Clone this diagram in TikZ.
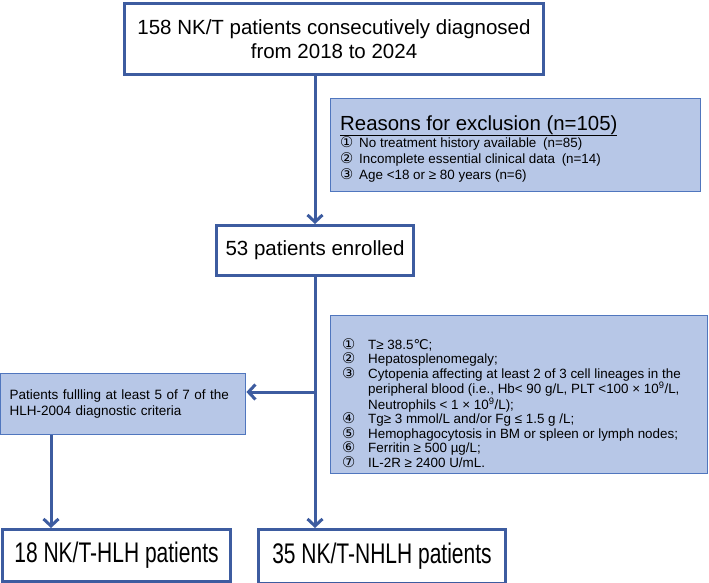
\documentclass[tikz,border=0pt]{standalone}
\usepackage{graphicx}
\usepackage{fontspec}
\setmainfont{Liberation Sans}
\newfontfamily\symfont{DejaVu Sans}
\usetikzlibrary{arrows.meta,positioning}
\definecolor{lineblue}{RGB}{61,92,160}
\definecolor{edgeblue}{RGB}{80,118,190}
\definecolor{paleblue}{RGB}{183,199,231}
\newcommand{\cnum}[2][19pt]{\makebox[#1][l]{\smash{\scalebox{1.1}{\symfont #2}}}}

\begin{document}
\begin{tikzpicture}[
    x=1pt, y=-1pt,
    whitebox/.style={rectangle, draw=lineblue, line width=3pt, fill=white, inner sep=0pt, anchor=north west, align=center},
    bluebox/.style={rectangle, draw=edgeblue, line width=1.4pt, fill=paleblue, inner sep=0pt, anchor=north west},
    bigfont/.style={font=\fontsize{20.5}{24}\selectfont},
    smallfont/.style={font=\fontsize{13.4}{14.5}\selectfont},
    arrow/.style={draw=lineblue, line width=3pt, -{Straight Barb[length=7pt,width=15pt]}}
]
\useasboundingbox (0,0) rectangle (709,582);

% Main boxes
\node[whitebox, bigfont, minimum width=419, minimum height=71] (start) at (123,2)
    {158 NK/T patients consecutively diagnosed\\from 2018 to 2024};
\node[whitebox, bigfont, minimum width=197, minimum height=50] (enrolled) at (215,224)
    {53 patients enrolled};
\node[whitebox, font=\fontsize{21}{24}\selectfont, minimum width=228, minimum height=52] (hlh) at (1,528)
    {\scalebox{1}[1.35]{18 NK/T-HLH patients}};
\node[whitebox, font=\fontsize{21}{24}\selectfont, minimum width=247, minimum height=54] (nhlh) at (257,528)
    {\scalebox{1}[1.35]{35 NK/T-NHLH patients}};

% Exclusion box
\node[bluebox, minimum width=370, minimum height=93] (reasons) at (330,98) {};
\node[anchor=base west, inner sep=0pt, font=\fontsize{20.4}{24}\selectfont] (reasonstitle) at (340,130)
    {\underline{Reasons for exclusion (n=105)}};
\node[anchor=north west, inner sep=0pt, align=left, font=\fontsize{13.4}{16}\selectfont] (reasonslist) at (340,138)
    {\cnum{①}No treatment history available\enspace(n=85)\\
     \cnum{②}Incomplete essential clinical data\enspace(n=14)\\
     \cnum{③}Age <18 or ≥ 80 years (n=6)};

% HLH-2004 criteria
\node[bluebox, minimum width=377, minimum height=158] (criteria) at (330,315) {};
\node[anchor=north west, inner sep=0pt, align=left, smallfont] (criterialist) at (342,339)
    {\cnum[26pt]{①}T≥ 38.5{\symfont ℃};\\
     \cnum[26pt]{②}Hepatosplenomegaly;\\
     \cnum[26pt]{③}Cytopenia affecting at least 2 of 3 cell lineages in the\\
     \hspace*{26pt}peripheral blood (i.e., Hb< 90 g/L, PLT <100 × 10\textsuperscript{9}/L,\\
     \hspace*{26pt}Neutrophils < 1 × 10\textsuperscript{9}/L);\\
     \cnum[26pt]{④}Tg≥ 3 mmol/L and/or Fg ≤ 1.5 g /L;\\
     \cnum[26pt]{⑤}Hemophagocytosis in BM or spleen or lymph nodes;\\
     \cnum[26pt]{⑥}Ferritin ≥ 500 µg/L;\\
     \cnum[26pt]{⑦}IL-2R ≥ 2400 U/mL.};

\node[bluebox, minimum width=245, minimum height=61, text width=227, inner xsep=9pt, align=left,
      font=\fontsize{13.5}{15.5}\selectfont] (hlhcrit) at (0,373)
    {Patients fullling at least 5 of 7 of the\\HLH-2004 diagnostic criteria};

% Connections
\coordinate (branch) at (313.5,392);
\coordinate (hlhdrop) at ([xshift=51pt]hlhcrit.south west);
\draw[arrow] (start.south -| enrolled.north) -- (enrolled.north);
\draw[arrow] (enrolled.south) -- (enrolled.south |- nhlh.north);
\draw[arrow] (branch) -- (branch -| hlhcrit.east);
\draw[arrow] (hlhdrop) -- (hlhdrop |- hlh.north);

\end{tikzpicture}
\end{document}
